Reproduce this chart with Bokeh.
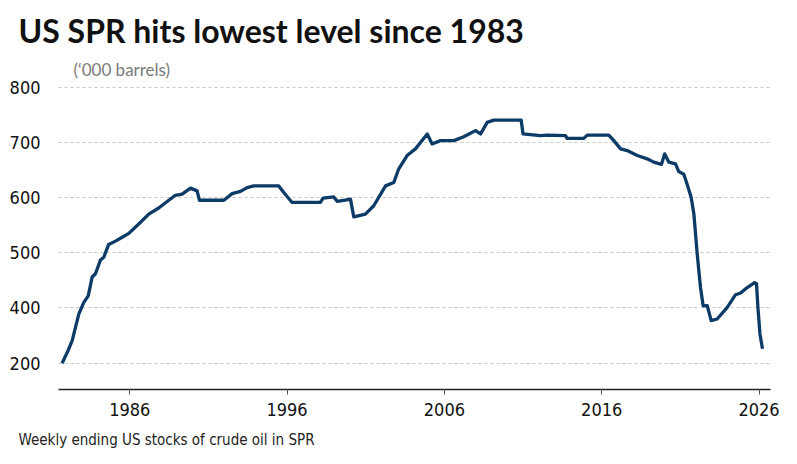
from bokeh.plotting import figure
from bokeh.models import Range1d, Title, FixedTicker
from bokeh.embed import file_html
from bokeh.resources import INLINE

# Weekly SPR stocks ('000 barrels), sampled at turning points
years = [1981.70, 1982.08, 1982.34, 1982.76, 1983.08, 1983.36, 1983.61, 1983.82,
         1984.14, 1984.35, 1984.66, 1985.09, 1985.52, 1985.94, 1986.57, 1987.21,
         1987.84, 1988.48, 1988.90, 1989.33, 1989.86, 1990.28, 1990.43, 1991.98,
         1992.51, 1993.04, 1993.46, 1993.88, 1995.47, 1995.79, 1996.32, 1998.12,
         1998.29, 1998.97, 1999.18, 1999.60, 2000.03, 2000.24, 2000.98, 2001.51,
         2002.26, 2002.78, 2003.10, 2003.63, 2004.16, 2004.91, 2005.22, 2005.75,
         2006.60, 2007.23, 2007.98, 2008.30, 2008.72, 2009.14, 2010.88, 2011.00,
         2012.10, 2012.53, 2013.70, 2013.80, 2014.86, 2015.08, 2016.45, 2016.77,
         2017.20, 2017.62, 2018.26, 2018.89, 2019.31, 2019.80, 2020.00, 2020.27,
         2020.69, 2020.90, 2021.22, 2021.43, 2021.69, 2021.86, 2022.07, 2022.28,
         2022.45, 2022.71, 2022.96, 2023.34, 2023.98, 2024.51, 2024.83, 2025.25,
         2025.72, 2025.84, 2025.93, 2026.06, 2026.22]
stocks = [300, 323, 341, 389, 410, 422, 456, 462,
          487, 492, 515, 521, 528, 535, 552, 570,
          581, 595, 604, 606, 617, 612, 595, 595,
          607, 611, 618, 621, 621, 609, 591, 591,
          599, 601, 593, 595, 597, 565, 570, 585,
          621, 627, 652, 676, 688, 715, 697, 703,
          703, 710, 721, 715, 736, 740, 740, 715,
          712, 713, 712, 707, 707, 713, 713, 703,
          688, 685, 676, 670, 664, 660, 679, 664,
          661, 647, 642, 624, 600, 570, 498, 437,
          404, 404, 377, 380, 401, 424, 427, 437,
          446, 444, 401, 353, 326]

x_ticks = [1986, 1996, 2006, 2016, 2026]
y_ticks = [300, 400, 500, 600, 700, 800]
y_tick_labels = ["200", "400", "500", "600", "700", "800"]

TITLE = "US SPR hits lowest level since 1983"
UNITS = "(\u2018000 barrels)"
FOOTER = "Weekly ending US stocks of crude oil in SPR"

NARROW = "'Liberation Sans Narrow', 'DejaVu Sans Condensed', sans-serif"

p = figure(frame_width=712, frame_height=309, output_backend="svg",
           toolbar_location=None,
           x_range=Range1d(1981.47, 2026.73), y_range=Range1d(252.4, 811.8),
           min_border_left=58, min_border_right=27, min_border_top=80,
           min_border_bottom=75, background_fill_color="white",
           border_fill_color="white", outline_line_color=None)

p.line(years, stocks, line_color="#0c3b68", line_width=3.3, line_join="round")

# headline on top
p.title.text = TITLE
p.title.text_font = "Lato"
p.title.text_font_style = "bold"
p.title.text_font_size = "32px"
p.title.text_color = "#111111"
p.title.align = "left"
p.title.offset = -40
p.title.standoff = 12

# units note sits just above the plot area
p.add_layout(Title(text=UNITS, text_font="Lato", text_font_style="normal",
                   text_font_size="17px", text_color="#7a7a7a", align="left",
                   offset=15, standoff=2), "above")

p.add_layout(Title(text=FOOTER, text_font=NARROW, text_font_style="normal",
                   text_font_size="15px", text_color="#222222", align="left",
                   offset=-40, standoff=20), "below")

# y axis: labels only
p.yaxis.ticker = FixedTicker(ticks=y_ticks)
p.yaxis.major_label_overrides = dict(zip(y_ticks, y_tick_labels))
p.yaxis.axis_line_color = None
p.yaxis.major_tick_line_color = None
p.yaxis.minor_tick_line_color = None
p.yaxis.major_label_text_font = NARROW
p.yaxis.major_label_text_font_size = "18px"
p.yaxis.major_label_text_color = "#111111"
p.yaxis.major_label_standoff = 12

# x axis: baseline with small ticks
p.xaxis.ticker = FixedTicker(ticks=x_ticks)
p.xaxis.axis_line_color = "#222222"
p.xaxis.axis_line_width = 1.3
p.xaxis.major_tick_line_color = "#555555"
p.xaxis.major_tick_in = 0
p.xaxis.major_tick_out = 5
p.xaxis.minor_tick_line_color = None
p.xaxis.major_label_text_font = NARROW
p.xaxis.major_label_text_font_size = "18px"
p.xaxis.major_label_text_color = "#111111"
p.xaxis.major_label_standoff = 8

p.xgrid.grid_line_color = None
p.ygrid.ticker = FixedTicker(ticks=y_ticks)
p.ygrid.grid_line_color = "#c8c8c8"
p.ygrid.grid_line_dash = "3 3"
p.ygrid.grid_line_width = 1

open("out.html", "w").write(file_html(p, INLINE))
